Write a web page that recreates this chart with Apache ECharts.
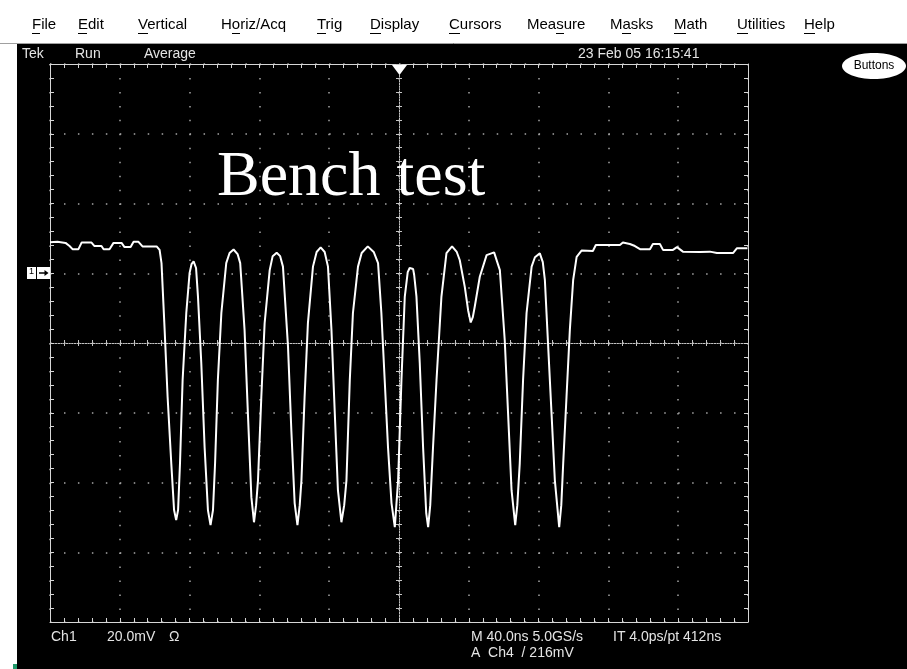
<!DOCTYPE html>
<html><head><meta charset="utf-8">
<script src="https://cdn.jsdelivr.net/npm/echarts@6/dist/echarts.min.js"></script>
<style>html,body{margin:0;padding:0;background:#fff}#c{width:907px;height:669px}</style>
</head><body><div id="c"></div>
<script>
// ---- data (time in ns relative to trigger, voltage in mV relative to Ch1 ground) ----
const timeNs = [-200.0,-195.7,-191.1,-188.8,-187.1,-183.7,-181.9,-176.2,-174.5,-170.5,-169.3,-165.9,-163.6,-159.0,-157.3,-153.8,-152.1,-149.3,-147.0,-138.9,
-137.2,-136.1,-134.3,-132.6,-130.5,-128.9,-127.7,-126.6,-125.5,-124.0,-121.9,-120.0,-118.9,-117.7,-116.3,-115.2,-113.3,-111.4,-109.5,-108.0,-106.6,-105.4,
-103.8,-101.8,-99.0,-97.1,-94.8,-92.5,-91.0,-88.5,-86.6,-84.6,-83.1,-81.9,-80.8,-78.9,-77.0,-74.1,-72.4,-70.1,-68.1,-66.5,
-63.6,-61.7,-59.8,-58.2,-56.9,-55.9,-54.1,-52.2,-49.3,-47.2,-44.9,-42.6,-40.7,-38.7,-36.8,-35.0,-33.0,-31.4,-30.1,-28.2,
-26.4,-23.5,-21.4,-17.9,-14.5,-12.0,-10.1,-8.2,-6.3,-4.3,-2.4,-0.5,1.4,3.3,5.0,6.1,7.1,8.1,8.7,10.0,11.9,13.8,
15.6,16.7,17.9,19.5,21.5,24.3,27.2,30.4,33.1,34.8,37.7,39.6,41.1,42.3,43.4,46.3,50.2,54.5,57.8,60.6,
62.5,64.5,66.6,67.8,69.2,71.1,73.1,76.0,77.9,80.7,82.4,83.6,85.5,87.4,89.3,91.8,93.0,94.1,96.0,97.9,
99.8,101.8,104.6,111.1,112.8,126.6,128.3,132.3,135.2,138.1,143.8,145.5,149.5,151.3,157.0,159.3,162.7,172.5,178.2,182.2,
191.4,193.7,199.7];
const voltageMv = [8.9,9.0,8.7,7.8,6.9,6.9,8.8,8.8,7.8,7.8,6.9,6.9,8.7,8.7,7.5,7.5,9.0,9.0,7.7,7.7,
6.7,2.9,-16.3,-35.5,-54.5,-67.9,-70.8,-67.9,-54.5,-30.6,-11.4,0.1,2.6,3.4,1.5,-6.7,-25.8,-49.9,-67.9,-72.2,-67.9,-54.5,
-30.6,-11.4,2.9,5.8,6.8,5.5,2.9,-16.3,-40.1,-64.2,-71.4,-66.5,-59.3,-35.5,-14.3,0.9,4.9,5.9,4.9,1.9,
-21.1,-45.0,-65.9,-72.2,-66.5,-59.3,-35.5,-14.3,1.9,6.1,7.4,6.1,1.9,-16.3,-40.1,-62.2,-71.4,-66.5,-59.3,-30.6,
-11.4,1.9,5.8,7.7,6.1,2.9,-11.4,-30.6,-49.9,-65.9,-72.8,-59.3,-30.6,-6.8,0.3,1.5,1.8,1.2,-0.5,-6.7,-25.8,-49.9,
-68.8,-72.8,-66.5,-49.9,-30.6,-6.8,5.8,7.7,6.1,3.8,-3.9,-10.6,-14.1,-12.6,-9.6,-1.0,5.2,6.0,0.9,-19.2,
-40.1,-62.2,-72.2,-66.5,-54.5,-30.6,-11.4,1.9,4.6,5.7,3.2,-2.0,-21.1,-40.1,-59.3,-72.8,-66.5,-54.5,-35.4,-16.3,
-2.0,4.7,6.5,6.4,8.1,8.1,8.8,8.4,7.8,6.9,6.9,8.4,8.4,6.7,6.7,7.5,6.2,6.1,6.2,5.8,
5.8,7.2,7.2];
const timeRange = [-200, 200], timeStep = 40;      // 40.0 ns/div
const voltRange = [-100, 60], voltStep = 20;       // 20.0 mV/div
const title = 'Bench test';
const menuItems = ['File','Edit','Vertical','Horiz/Acq','Trig','Display','Cursors','Measure','Masks','Math','Utilities','Help'];
const statusTop = ['Tek','Run','Average','23 Feb 05 16:15:41'];
const statusBottom1 = ['Ch1','20.0mV','Ω','M 40.0ns 5.0GS/s','IT 4.0ps/pt 412ns'];
const statusBottom2 = ['A  Ch4  / 216mV'];

// ---- layout ----
const menuX = [32,78,138,221,317,370,449,527,610,674,737,804];
const menuUnderline = [[0,8],[0,9],[0,10],[11,19],[0,9],[0,11],[0,11],[29,37],[12,21],[0,12],[0,11],[0,11]];
const statusTopX = [22,75,144,578];
const bottom1X = [51,107,169,471,613];
const G = {left:50, top:64, width:698, height:558};

const chart = echarts.init(document.getElementById('c'), null, {renderer:'canvas'});
const borderCol = '#d6d6d6';
function xAx(pos, opts) {
  return Object.assign({type:'value', position:pos, min:timeRange[0], max:timeRange[1], interval:timeStep,
    axisLabel:{show:false}, splitLine:{show:false}, minorSplitLine:{show:false}}, opts);
}
function yAx(pos, opts) {
  return Object.assign({type:'value', position:pos, min:voltRange[0], max:voltRange[1], interval:voltStep,
    axisLabel:{show:false}, splitLine:{show:false}, minorSplitLine:{show:false}}, opts);
}
const bTick = {axisLine:{show:true,onZero:false,lineStyle:{color:borderCol,width:1}},
  axisTick:{show:true,inside:true,length:4,lineStyle:{color:borderCol}},
  minorTick:{show:true,splitNumber:5,length:4,lineStyle:{color:borderCol}}};
const dots = {show:true,lineStyle:{color:'#a6a6a6',width:1.5,type:[1.5,12.46]}};
const cLine = {show:true,onZero:false,lineStyle:{color:'#c4c4c4',width:1,type:[1.5,1.2]}};
const cIn = {axisTick:{show:true,inside:true,length:3,lineStyle:{color:'#c4c4c4'}},
  minorTick:{show:true,splitNumber:5,length:3,lineStyle:{color:'#c4c4c4'}}};
const cOut = {axisTick:{show:true,inside:false,length:3,lineStyle:{color:'#c4c4c4'}},
  minorTick:{show:true,splitNumber:5,length:3,lineStyle:{color:'#c4c4c4'}}};

const txt = (text, x, y, size, color, extra) => Object.assign({type:'text', z:50, style:{text, x, y,
  font: size+'px "Liberation Sans", Arial, sans-serif', fill:color, verticalAlign:'middle', textVerticalAlign:'middle'}}, extra||{});

const graphics = [
  {type:'rect', z:40, shape:{x:0,y:0,width:907,height:43}, style:{fill:'#fff'}},
  {type:'rect', z:40, shape:{x:0,y:43,width:17,height:626}, style:{fill:'#fff'}},
  {type:'line', z:41, shape:{x1:0,y1:43.5,x2:907,y2:43.5}, style:{stroke:'#a0a0a0',lineWidth:1}},
  {type:'rect', z:41, shape:{x:13,y:664,width:4,height:5}, style:{fill:'#1f9a6a'}},
  // trigger position marker
  {type:'polygon', z:45, shape:{points:[[392,65],[407,65],[399.5,75]]}, style:{fill:'#fff'}},
  // ch1 ground marker
  {type:'rect', z:45, shape:{x:27,y:267,width:9,height:12}, style:{fill:'#fff'}},
  {type:'rect', z:45, shape:{x:37,y:267,width:13,height:12}, style:{fill:'#fff'}},
  txt('1', 29, 272, 9, '#000'),
  {type:'line', z:46, shape:{x1:39,y1:273,x2:47,y2:273}, style:{stroke:'#000',lineWidth:1.5}},
  {type:'polygon', z:46, shape:{points:[[44.5,270],[48.5,273],[44.5,276]]}, style:{fill:'#000'}},
  // Buttons
  {type:'ellipse', z:45, shape:{cx:874,cy:66,rx:32,ry:13}, style:{fill:'#fff'}},
  {type:'text', z:50, style:{text:'Buttons', x:874, y:66, font:'12px "Liberation Sans", Arial, sans-serif', fill:'#000', align:'center', textAlign:'center', verticalAlign:'middle', textVerticalAlign:'middle'}}
];
menuItems.forEach((m,i)=>{
  graphics.push(txt(m, menuX[i], 25, 15, '#000'));
  graphics.push({type:'line', z:50, shape:{x1:menuX[i]+menuUnderline[i][0], y1:33.5, x2:menuX[i]+menuUnderline[i][1], y2:33.5}, style:{stroke:'#000',lineWidth:1}});
});
statusTop.forEach((s,i)=>graphics.push(txt(s, statusTopX[i], 54, 14, '#e4e4e4')));
statusBottom1.forEach((s,i)=>graphics.push(txt(s, bottom1X[i], 637, 14, '#e4e4e4')));
graphics.push(txt(statusBottom2[0], 471, 653, 14, '#e4e4e4'));

chart.setOption({
  animation:false,
  backgroundColor:'#000',
  title:{text:title, left:212, top:141, textStyle:{fontFamily:'"Liberation Serif", "Times New Roman", serif', fontSize:64, fontWeight:'normal', color:'#fff'}},
  grid:{left:G.left, top:G.top, width:G.width, height:G.height, show:false},
  xAxis:[
    xAx('bottom', Object.assign({}, bTick, {splitLine:dots})),
    xAx('top', bTick),
    xAx('bottom', Object.assign({offset:-G.height/2, axisLine:cLine}, cIn)),
    xAx('bottom', Object.assign({offset:-G.height/2, axisLine:{show:false}}, cOut))
  ],
  yAxis:[
    yAx('left', Object.assign({}, bTick, {splitLine:dots})),
    yAx('right', bTick),
    yAx('left', Object.assign({offset:-G.width/2, axisLine:cLine}, cIn)),
    yAx('left', Object.assign({offset:-G.width/2, axisLine:{show:false}}, cOut))
  ],
  series:[{type:'line', name:'Ch1', xAxisIndex:0, yAxisIndex:0, z:10,
    data: timeNs.map((t,i)=>[t, voltageMv[i]]),
    showSymbol:false, silent:true, lineStyle:{color:'#ffffff', width:2}}],
  graphic:{elements:graphics}
});
</script></body></html>
